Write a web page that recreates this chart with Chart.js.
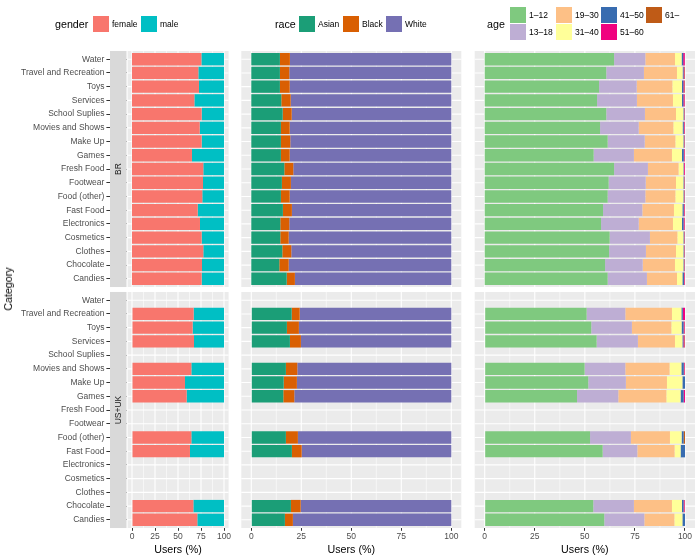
<!DOCTYPE html>
<html lang="en">
<head>
<meta charset="UTF-8">
<title>Users by category</title>
<script src="https://cdn.jsdelivr.net/npm/chart.js"></script>
<style>
  body { margin: 0; background: #fff; font-family: "Liberation Sans", Arial, sans-serif; }
  #wrap { position: relative; width: 700px; height: 560px; overflow: hidden; }
  #wrap canvas { position: absolute; left: 0; top: 0; }
  .lg { position: absolute; white-space: nowrap; transform: translateY(-50%); color: #000; }
  .sw { position: absolute; width: 16px; height: 16px; }
  #ytitle { position: absolute; left: 8px; top: 289px; font-size: 10.7px; white-space: nowrap;
            transform: translate(-50%, -50%) rotate(-90deg); }
</style>
</head>
<body>
<div id="wrap">
  <canvas id="gBR" width="700" height="560"></canvas>
  <canvas id="gUS" width="700" height="560"></canvas>
  <canvas id="rBR" width="700" height="560"></canvas>
  <canvas id="rUS" width="700" height="560"></canvas>
  <canvas id="aBR" width="700" height="560"></canvas>
  <canvas id="aUS" width="700" height="560"></canvas>
  <div id="ytitle">Category</div>
</div>
<script>
// categories, top to bottom
const categories = ['Water', 'Travel and Recreation', 'Toys', 'Services', 'School Suplies',
  'Movies and Shows', 'Make Up', 'Games', 'Fresh Food', 'Footwear', 'Food (other)',
  'Fast Food', 'Electronics', 'Cosmetics', 'Clothes', 'Chocolate', 'Candies'];
const regions = ['BR', 'US+UK'];
const majorTicks = [0, 25, 50, 75, 100];
const minorTicks = [12.5, 37.5, 62.5, 87.5];

// gender (%)
const genderLabels = ['female', 'male'];
const genderColors = ['#F8766D', '#00BFC4'];
const brFemale = [75.4, 72.1, 72.8, 67.8, 75.7, 73.6, 75.7, 65.2, 77.5, 77.2, 76.4, 71.4, 73.9, 75.7, 77.5, 76.1, 75.7];
const brMale   = [24.6, 27.9, 27.2, 32.2, 24.3, 26.4, 24.3, 34.8, 22.5, 22.8, 23.6, 28.6, 26.1, 24.3, 22.5, 23.9, 24.3];
const usFemale = [null, 67.0, 65.9, 67.4, null, 64.5, 57.6, 59.4, null, null, 64.5, 63.0, null, null, null, 66.7, 71.0];
const usMale   = [null, 33.0, 34.1, 32.6, null, 35.5, 42.4, 40.6, null, null, 35.5, 37.0, null, null, null, 33.3, 29.0];

// race (%)
const raceLabels = ['Asian', 'Black', 'White'];
const raceColors = ['#1B9E77', '#D95F02', '#7570B3'];
const brAsian = [14.3, 14.3, 14.3, 15.0, 15.7, 14.8, 14.8, 14.8, 16.5, 15.3, 14.8, 15.8, 14.5, 14.5, 15.5, 14.0, 17.7];
const brBlack = [5.0, 4.7, 4.9, 4.7, 4.5, 4.4, 4.7, 4.4, 4.5, 4.5, 4.4, 4.5, 4.5, 4.2, 4.5, 4.7, 4.1];
const brWhite = [80.7, 81.0, 80.8, 80.3, 79.8, 80.8, 80.5, 80.8, 79.0, 80.2, 80.8, 79.7, 81.0, 81.3, 80.0, 81.3, 78.2];
const usAsian = [null, 20.2, 17.8, 19.3, null, 17.3, 16.2, 16.0, null, null, 17.3, 20.3, null, null, null, 19.8, 16.8];
const usBlack = [null, 4.0, 6.0, 5.5, null, 5.7, 6.6, 5.5, null, null, 6.0, 4.9, null, null, null, 4.9, 4.0];
const usWhite = [null, 75.8, 76.2, 75.2, null, 77.0, 77.2, 78.5, null, null, 76.7, 74.8, null, null, null, 75.3, 79.2];

// age (%)
const ageLabels = ['1–12', '13–18', '19–30', '31–40', '41–50', '51–60', '61–'];
const ageColors = ['#7FC97F', '#BEAED4', '#FDC086', '#FFFF99', '#386CB0', '#F0027F', '#BF5B17'];
const brAge1to12  = [64.6, 60.7, 57.1, 56.1, 60.7, 57.6, 61.4, 54.4, 64.6, 61.9, 61.4, 59.1, 58.1, 62.4, 62.1, 60.1, 61.4];
const brAge13to18 = [15.6, 18.8, 18.8, 19.9, 19.3, 19.3, 18.5, 20.1, 16.9, 18.5, 18.8, 19.6, 18.8, 20.1, 18.4, 18.8, 19.6];
const brAge19to30 = [14.8, 16.5, 17.8, 18.0, 15.5, 17.3, 15.3, 19.0, 15.3, 15.1, 15.0, 15.8, 17.1, 13.7, 15.0, 16.1, 15.0];
const brAge31to40 = [3.3, 2.8, 4.8, 4.5, 3.7, 4.6, 4.0, 5.0, 2.4, 3.7, 4.0, 4.2, 4.5, 3.0, 3.7, 4.2, 2.7];
const brAge41to50 = [0.8, 0.5, 0.7, 0.7, 0.4, 0.6, 0.4, 0.9, 0.3, 0.4, 0.4, 0.7, 0.8, 0.4, 0.4, 0.4, 0.8];
const brAge51to60 = [0.8, 0.4, 0.5, 0.6, 0.2, 0.4, 0.2, 0.4, 0.4, 0.2, 0.2, 0.4, 0.5, 0.2, 0.2, 0.2, 0.3];
const brAge61     = [0.1, 0.3, 0.3, 0.2, 0.2, 0.2, 0.2, 0.2, 0.1, 0.2, 0.2, 0.2, 0.2, 0.2, 0.2, 0.2, 0.2];
const usAge1to12  = [null, 50.9, 53.2, 55.9, null, 49.9, 51.7, 46.1, null, null, 52.6, 58.9, null, null, null, 54.2, 59.7];
const usAge13to18 = [null, 19.3, 20.3, 20.6, null, 20.3, 18.8, 20.6, null, null, 20.4, 17.3, null, null, null, 20.3, 20.0];
const usAge19to30 = [null, 23.3, 19.7, 18.5, null, 22.1, 20.5, 24.0, null, null, 19.5, 18.6, null, null, null, 19.0, 15.0];
const usAge31to40 = [null, 4.7, 5.1, 3.7, null, 5.9, 7.7, 7.1, null, null, 5.8, 3.0, null, null, null, 5.0, 4.0];
const usAge41to50 = [null, 0.7, 1.0, 0.5, null, 1.2, 1.3, 1.5, null, null, 1.0, 2.2, null, null, null, 0.8, 1.3];
const usAge51to60 = [null, 1.1, 0.5, 0.5, null, 0.4, 0.0, 0.7, null, null, 0.0, 0.0, null, null, null, 0.5, 0.0];
const usAge61     = [null, 0.0, 0.2, 0.3, null, 0.2, 0.0, 0.0, null, null, 0.7, 0.0, null, null, null, 0.2, 0.0];

Chart.defaults.font.family = '"Liberation Sans", Arial, sans-serif';

// grey panel, white grid lines and the facet strip
const panelBg = {
  id: 'panelBg',
  beforeDatasetsDraw(chart, args, opts) {
    const { ctx, chartArea: a, scales: { x, y } } = chart;
    const pad = (y.getPixelForValue(1) - y.getPixelForValue(0)) * 0.6;
    const top = a.top - pad, bottom = a.bottom + pad;
    ctx.save();
    ctx.fillStyle = '#EBEBEB';
    ctx.fillRect(a.left, top, a.right - a.left, bottom - top);
    ctx.strokeStyle = '#FFFFFF';
    const vline = (v, w) => {
      const px = x.getPixelForValue(v);
      ctx.lineWidth = w;
      ctx.beginPath(); ctx.moveTo(px, top); ctx.lineTo(px, bottom); ctx.stroke();
    };
    minorTicks.forEach(v => vline(v, 0.55));
    majorTicks.forEach(v => vline(v, 1.1));
    ctx.lineWidth = 1.1;
    categories.forEach((c, i) => {
      const py = y.getPixelForValue(i);
      ctx.beginPath(); ctx.moveTo(a.left, py); ctx.lineTo(a.right, py); ctx.stroke();
    });
    if (opts.strip) {
      const sl = a.left - 17.4, sr = a.left - 0.9;
      ctx.fillStyle = '#FFFFFF';
      ctx.fillRect(sr, top, a.left - sr, bottom - top);
      ctx.fillStyle = '#D9D9D9';
      ctx.fillRect(sl, top, sr - sl, bottom - top);
      ctx.translate((sl + sr) / 2, (top + bottom) / 2);
      ctx.rotate(-Math.PI / 2);
      ctx.fillStyle = '#1A1A1A';
      ctx.font = '8.5px "Liberation Sans", Arial, sans-serif';
      ctx.textAlign = 'center';
      ctx.textBaseline = 'middle';
      ctx.fillText(opts.strip, 0, 0);
    }
    ctx.restore();
  }
};

function makeChart(id, labels, colors, series, o) {
  const datasets = series.map((d, i) => ({
    label: labels[i], data: d, backgroundColor: colors[i],
    borderWidth: 0, barPercentage: 0.9, categoryPercentage: 1, clip: false
  }));
  const x = {
    type: 'linear', stacked: true, min: -5, max: 105, display: o.xAxis,
    afterBuildTicks: s => { s.ticks = majorTicks.map(v => ({ value: v })); },
    grid: { display: true, drawOnChartArea: false, drawTicks: true, tickLength: 11, color: '#333333', lineWidth: 1 },
    border: { display: false },
    ticks: { color: '#4D4D4D', font: { size: 8.5 }, padding: 1, maxRotation: 0, autoSkip: false },
    title: { display: true, text: 'Users (%)', color: '#000', font: { size: 10.7 }, padding: { top: 0, bottom: 4 } }
  };
  if (o.xAxis) x.afterFit = s => { s.height = 40.2; };
  const y = {
    type: 'category', stacked: true, offset: false, display: o.yAxis,
    grid: { display: true, offset: false, drawOnChartArea: false, drawTicks: true, tickLength: 21, color: '#333333', lineWidth: 1 },
    border: { display: false },
    ticks: { color: '#4D4D4D', font: { size: 8.5 }, padding: 2, autoSkip: false }
  };
  if (o.yAxis) y.afterFit = s => { s.width = 127.4; };
  return new Chart(document.getElementById(id), {
    type: 'bar',
    data: { labels: categories, datasets },
    options: {
      indexAxis: 'y', responsive: false, animation: false,
      layout: { autoPadding: false, padding: o.padding },
      plugins: { legend: { display: false }, tooltip: { enabled: false }, panelBg: { strip: o.strip } },
      scales: { x, y }
    },
    plugins: [panelBg]
  });
}

const padBR = { top: 59.2, bottom: 281.2 };
const padUS = { top: 300.2, bottom: 0 };
const colG = { left: 0, right: 471.4 }, colR = { left: 241.3, right: 238.7 }, colA = { left: 474.7, right: 5 };

makeChart('gBR', genderLabels, genderColors, [brFemale, brMale],
  { padding: { ...colG, ...padBR }, xAxis: false, yAxis: true, strip: regions[0] });
makeChart('gUS', genderLabels, genderColors, [usFemale, usMale],
  { padding: { ...colG, ...padUS }, xAxis: true, yAxis: true, strip: regions[1] });
makeChart('rBR', raceLabels, raceColors, [brAsian, brBlack, brWhite],
  { padding: { ...colR, ...padBR }, xAxis: false, yAxis: false });
makeChart('rUS', raceLabels, raceColors, [usAsian, usBlack, usWhite],
  { padding: { ...colR, ...padUS }, xAxis: true, yAxis: false });
makeChart('aBR', ageLabels, ageColors,
  [brAge1to12, brAge13to18, brAge19to30, brAge31to40, brAge41to50, brAge51to60, brAge61],
  { padding: { ...colA, ...padBR }, xAxis: false, yAxis: false });
makeChart('aUS', ageLabels, ageColors,
  [usAge1to12, usAge13to18, usAge19to30, usAge31to40, usAge41to50, usAge51to60, usAge61],
  { padding: { ...colA, ...padUS }, xAxis: true, yAxis: false });

// legends above the panels
const wrap = document.getElementById('wrap');
function addText(text, x, y, size) {
  const d = document.createElement('div');
  d.className = 'lg';
  d.style.left = x + 'px'; d.style.top = y + 'px'; d.style.fontSize = size + 'px';
  d.textContent = text;
  wrap.appendChild(d);
}
function addLegend(title, titleX, labels, colors, spots) {
  addText(title, titleX, 24, 10.7);
  labels.forEach((lab, i) => {
    const [sx, sy] = spots[i];
    const s = document.createElement('div');
    s.className = 'sw';
    s.style.left = sx + 'px'; s.style.top = sy + 'px'; s.style.background = colors[i];
    wrap.appendChild(s);
    addText(lab, sx + 19, sy + 8, 8.5);
  });
}
addLegend('gender', 55, genderLabels, genderColors, [[93, 16], [141, 16]]);
addLegend('race', 275, raceLabels, raceColors, [[299, 16], [343, 16], [386, 16]]);
addLegend('age', 487, ageLabels, ageColors,
  [[510, 7], [510, 24], [556, 7], [556, 24], [601, 7], [601, 24], [646, 7]]);
</script>
</body>
</html>
